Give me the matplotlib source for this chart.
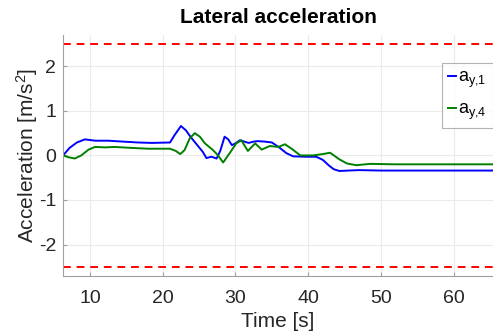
import numpy as np
import matplotlib
matplotlib.use('Agg')
from matplotlib import pyplot as plt

plt.rcParams['font.family'] = ['Liberation Sans', 'DejaVu Sans']
plt.rcParams['mathtext.fontset'] = 'custom'
plt.rcParams['mathtext.rm'] = 'Liberation Sans'
plt.rcParams['mathtext.it'] = 'Liberation Sans'
plt.rcParams['axes.unicode_minus'] = False

# values
t_ay1 = [6.3, 7.2, 8.2, 9.3, 10.7, 12.5, 14.5, 16.6, 18.5, 21.0, 21.6, 22.5, 23.2, 23.8, 24.8, 25.5,
         26.0, 26.7, 27.4, 27.9, 28.5, 29.0, 29.5, 30.0, 30.6, 31.2, 31.8, 32.5, 33.1, 34.0, 35.0,
         36.0, 37.0, 37.9, 39.5, 41.1, 42.0, 42.8, 43.5, 44.3, 45.5, 47.0, 50.0, 55.0, 60.0, 65.4]
ay1 = [0.0, 0.17, 0.29, 0.36, 0.33, 0.33, 0.31, 0.29, 0.28, 0.29, 0.45, 0.66, 0.56, 0.42, 0.22, 0.08,
       -0.06, -0.03, -0.07, 0.1, 0.42, 0.36, 0.23, 0.27, 0.34, 0.31, 0.28, 0.31, 0.32, 0.31, 0.29,
       0.18, 0.05, -0.02, -0.03, -0.03, -0.1, -0.22, -0.31, -0.35, -0.34, -0.33, -0.34, -0.34, -0.34, -0.34]

t_ay4 = [6.3, 7.0, 7.9, 8.8, 9.8, 10.7, 12.1, 13.4, 15.5, 18.0, 21.0, 21.8, 22.4, 23.0, 23.7, 24.4,
         25.1, 25.8, 26.9, 27.6, 28.3, 29.2, 30.1, 30.8, 31.7, 32.7, 33.6, 34.7, 35.9, 36.8, 37.8,
         38.9, 40.7, 42.0, 43.0, 44.3, 45.3, 46.6, 48.5, 52.0, 58.0, 65.4]
ay4 = [0.0, -0.04, -0.07, 0.0, 0.13, 0.19, 0.18, 0.19, 0.17, 0.15, 0.15, 0.1, 0.03, 0.12, 0.38, 0.5,
       0.42, 0.27, 0.12, 0.0, -0.16, 0.05, 0.27, 0.34, 0.1, 0.27, 0.13, 0.21, 0.19, 0.25, 0.14,
       0.0, 0.0, 0.03, 0.06, -0.09, -0.18, -0.22, -0.19, -0.2, -0.2, -0.2]

limit = 2.5
xticks = [10, 20, 30, 40, 50, 60]
yticks = [-2, -1, 0, 1, 2]

fig = plt.figure(figsize=(4.93, 3.31), dpi=100)
ax = fig.add_axes([0.128, 0.167, 0.872, 0.727])

ax.plot(t_ay1, ay1, color='#0000ff', lw=1.4, label=r'a$_{\mathregular{y{,}1}}$')
ax.plot(t_ay4, ay4, color='#008000', lw=1.4, label=r'a$_{\mathregular{y{,}4}}$')
ax.axhline(limit, color='#ff0000', lw=1.4, ls=(0, (4, 3)))
ax.axhline(-limit, color='#ff0000', lw=1.4, ls=(0, (4, 3)))

ax.set_xlim(6.3, 65.4)
ax.set_ylim(-2.7, 2.7)
ax.set_xticks(xticks)
ax.set_yticks(yticks)
ax.grid(True, color='#ebebeb', lw=0.8)
ax.set_axisbelow(True)

for s in ['top', 'right']:
    ax.spines[s].set_visible(False)
for s in ['left', 'bottom']:
    ax.spines[s].set_color('#a0a0a0')
ax.tick_params(direction='in', length=3, color='#a0a0a0', labelcolor='#262626', labelsize=14)
ax.tick_params(axis='x', pad=10)
ax.tick_params(axis='y', pad=5)

ax.set_title('Lateral acceleration', fontsize=15, fontweight='bold', pad=9)
ax.set_xlabel('Time [s]', fontsize=15, color='#262626', labelpad=4)
ax.set_ylabel('Acceleration [m/s$^2$]', fontsize=15, color='#262626', labelpad=-1)

leg = ax.legend(loc='upper right', bbox_to_anchor=(1.0, 0.885), fontsize=13, handlelength=0.45,
                handletextpad=0.1, borderpad=0.35, labelspacing=0.6, fancybox=False, borderaxespad=0)
leg.get_frame().set_edgecolor('#a0a0a0')
leg.get_frame().set_linewidth(0.8)

fig.savefig('out.png', dpi=100)
